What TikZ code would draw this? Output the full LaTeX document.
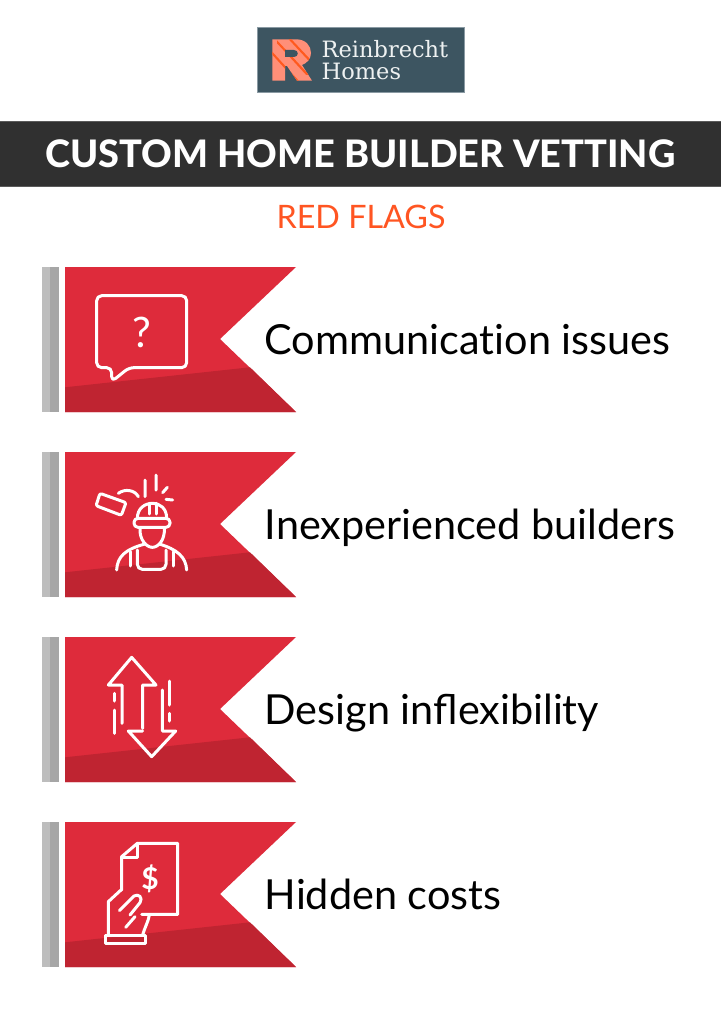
\documentclass[tikz,border=0pt]{standalone}
\usepackage{fontspec}
\setmainfont{Lato}
\newfontfamily\latoheavy{Lato Heavy}
\newfontfamily\logofont{DejaVu Serif}
\usetikzlibrary{calc}
\definecolor{flagred}{HTML}{DE2B3B}
\definecolor{flagdark}{HTML}{BF2431}
\definecolor{polelight}{HTML}{BDBDBD}
\definecolor{poledark}{HTML}{A6A6A6}
\definecolor{barcol}{HTML}{303030}
\definecolor{baredge}{HTML}{5A5A5A}
\definecolor{subcol}{HTML}{FF5522}
\definecolor{logobg}{HTML}{3D5561}
\definecolor{logoedge}{HTML}{8A9AA3}
\definecolor{logotext}{HTML}{EEF1F1}
\definecolor{rlight}{HTML}{FF8F78}
\definecolor{rdark}{HTML}{FF5A1F}
\tikzset{
  icon/.style={draw=white,line width=3pt,line cap=round,line join=round,fill=none},
  itemtext/.style={anchor=base west,inner sep=0pt,text=black,font=\fontsize{41.4}{41.4}\selectfont},
  logotxt/.style={anchor=base west,inner sep=0pt,text=logotext,font=\logofont\fontsize{22.5}{22.5}\selectfont},
}
\newcommand{\flagshape}[1]{%
  \begin{scope}[yshift=-#1pt]
    \fill[polelight] (42,267) rectangle (50,412);
    \fill[poledark] (50,267) rectangle (59,412);
    \fill[flagred] (65,267) -- (296,267) -- (220,339) -- (296,412) -- (65,412) -- cycle;
    \fill[flagdark] (65,387.3) -- (250,367.3) -- (296,412) -- (65,412) -- cycle;
  \end{scope}}
\begin{document}
\begin{tikzpicture}[x=1pt,y=-1pt]
\useasboundingbox (0,0) rectangle (721,1024);
\fill[white] (0,0) rectangle (721,1024);
% logo
\filldraw[fill=logobg,draw=logoedge,line width=1pt] (257,28) rectangle (464,92.5);
\begin{scope}
  \clip (272.3,39.3) -- (296,39.3) .. controls (306,39.3) and (311,46) .. (311,53) .. controls (311,59) and (307,63) .. (302,65) -- (312,80.7) -- (297,80.7) -- (287,66) -- (285,66) -- (285,80.7) -- (272.3,80.7) -- cycle;
  \fill[rlight] (270,37) rectangle (314,83);
  \foreach \d in {0,9,18,27,36}{
    \fill[rdark] ($(268,50)+(\d,-\d*0.75)$) -- ($(268,47)+(\d,-\d*0.75)$) -- ($(300,82)+(\d,-\d*0.8)$) -- ($(297,82)+(\d,-\d*0.8)$) -- cycle;
  }
\end{scope}
\fill[logobg] (285,50) -- (294,50) .. controls (299,50) and (299,57) .. (294,57) -- (285,57) -- cycle;
\node[logotxt] (logoa) at (321.5,58) {Reinbrecht};
\node[logotxt] (logob) at (321.5,80) {Homes};
% title
\fill[barcol] (0,121) rectangle (721,186.5);
\draw[baredge,line width=0.8pt] (0,121) -- (721,121) (0,186.5) -- (721,186.5);
\node[anchor=base,inner sep=0pt,text=white,font=\latoheavy\fontsize{37.9}{37.9}\selectfont] (title) at (360.5,167.5) {CUSTOM HOME BUILDER VETTING};
\node[anchor=base,inner sep=0pt,text=subcol,font=\fontsize{32.3}{32.3}\selectfont] (sub) at (361,228.5) {RED FLAGS};
% flags
\flagshape{0}\flagshape{185}\flagshape{370}\flagshape{555}
\node[itemtext] (t1) at (264.5,354.3) {Communicat\kern0pt ion issues};
\node[itemtext] (t2) at (264.5,539.3) {Inexperienced builders};
\node[itemtext] (t3) at (264.5,724.3) {Design inflexibility};
\node[itemtext] (t4) at (264.5,909.3) {Hidden costs};
% icon 1
\begin{scope}[shift={(30,255)},scale=1/3]
  \draw[icon,rounded corners=5pt] (200,122) -- (470,122) -- (470,338) -- (297,338) -- (245,380) -- (245,338) -- (200,338) -- cycle;
  \node[inner sep=0pt,text=white,font=\fontsize{42}{42}\selectfont] (q) at (336,232) {?};
\end{scope}
% icon 2
\begin{scope}[shift={(30,440)},scale=1/3]
  \draw[icon,rounded corners=2pt] (210,160) -- (288,188) -- (274,226) -- (198,197) -- cycle;
  \draw[icon] (265,160) .. controls (285,145) and (315,150) .. (325,170);
  \draw[icon] (345,120) -- (345,170) (378,105) -- (378,150) (398,158) -- (412,142) (408,178) -- (428,180);
  \draw[icon] (322,235) .. controls (322,205) and (345,190) .. (367,190) .. controls (390,190) and (410,205) .. (410,235);
  \draw[icon,rounded corners=4pt] (312,235) rectangle (420,262);
  \draw[icon] (358,222) -- (358,190) (378,190) -- (378,222);
  \draw[icon] (330,265) .. controls (328,300) and (350,322) .. (367,322) .. controls (385,322) and (405,300) .. (403,265);
  \draw[icon] (260,390) .. controls (262,350) and (285,328) .. (345,312);
  \draw[icon] (388,312) .. controls (440,328) and (468,350) .. (470,390);
  \draw[icon,rounded corners=5pt] (322,330) -- (322,388) -- (408,388) -- (408,330);
  \draw[icon] (302,335) -- (302,378) (430,335) -- (430,378);
\end{scope}
% icon 3
\begin{scope}[shift={(30,625)},scale=1/3]
  \draw[icon] (276,295) -- (276,180) -- (235,180) -- (305,97) -- (378,180) -- (338,180) -- (338,310);
  \draw[icon] (397,195) -- (397,318) -- (437,318) -- (365,395) -- (295,318) -- (338,318);
  \draw[icon] (252,205) -- (252,228) (252,255) -- (252,325) (418,168) -- (418,240) (418,265) -- (418,288);
\end{scope}
% icon 4
\begin{scope}[shift={(30,810)},scale=1/3]
  \draw[icon] (275,240) -- (275,140) -- (322,100) -- (443,100) -- (443,313) -- (335,313);
  \draw[icon] (322,100) -- (322,142) -- (278,142);
  \draw[icon] (227,375) rectangle (345,400);
  \draw[icon] (235,375) -- (235,275) -- (275,238);
  \draw[icon] (268,302) -- (312,258) .. controls (325,250) and (340,262) .. (330,278) -- (300,315);
  \draw[icon] (315,320) -- (287,352);
  \draw[icon] (358,315) .. controls (355,335) and (345,350) .. (338,375);
  \node[inner sep=0pt,text=white,font=\bfseries\fontsize{30}{30}\selectfont] (dollar) at (360,206) {\$};
\end{scope}
\end{tikzpicture}
\end{document}
